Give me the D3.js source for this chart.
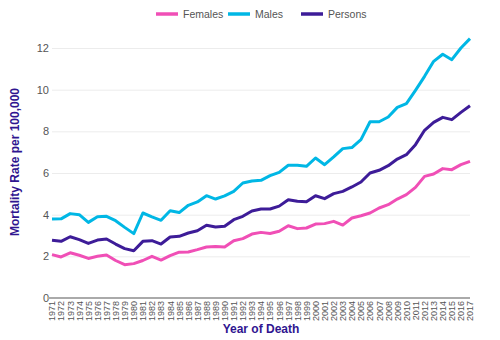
<!DOCTYPE html>
<html>
<head>
<meta charset="utf-8">
<script src="https://cdn.jsdelivr.net/npm/d3@7"></script>
<style>
  body { margin: 0; background: #fff; }
  svg { display: block; font-family: "Liberation Sans", Arial, sans-serif; }
</style>
</head>
<body>
<svg id="chart" width="500" height="340"></svg>
<script>
const years = d3.range(1971, 2018).map(String);

const females = [2.08, 1.97, 2.17, 2.05, 1.9, 2.0, 2.06, 1.8, 1.6, 1.65, 1.8, 2.0, 1.82, 2.03, 2.2,
  2.21, 2.32, 2.45, 2.47, 2.45, 2.75, 2.85, 3.07, 3.15, 3.1, 3.2, 3.47, 3.33, 3.36, 3.55,
  3.57, 3.68, 3.5, 3.84, 3.95, 4.08, 4.32, 4.48, 4.75, 4.96, 5.31, 5.84, 5.95, 6.21, 6.16, 6.4, 6.56];

const males = [3.79, 3.8, 4.05, 4.0, 3.63, 3.9, 3.92, 3.71, 3.39, 3.09, 4.08, 3.89, 3.73, 4.19, 4.1,
  4.45, 4.61, 4.91, 4.75, 4.9, 5.12, 5.52, 5.62, 5.65, 5.87, 6.03, 6.37, 6.37, 6.32, 6.72,
  6.4, 6.77, 7.17, 7.22, 7.6, 8.46, 8.46, 8.69, 9.15, 9.33, 9.97, 10.64, 11.36, 11.7, 11.44, 12.0, 12.45];

const persons = [2.77, 2.72, 2.94, 2.8, 2.62, 2.78, 2.83, 2.59, 2.37, 2.27, 2.72, 2.75, 2.59, 2.93, 2.96,
  3.12, 3.23, 3.49, 3.41, 3.44, 3.76, 3.92, 4.18, 4.27, 4.27, 4.41, 4.72, 4.64, 4.62, 4.91,
  4.77, 5.01, 5.12, 5.33, 5.57, 6.0, 6.13, 6.35, 6.67, 6.88, 7.36, 8.05, 8.43, 8.67, 8.56, 8.91, 9.23];

const yTicks = [0, 2, 4, 6, 8, 10, 12];

const series = [
  {name: 'Females', values: females, color: '#f04fb6'},
  {name: 'Males', values: males, color: '#00b7e5'},
  {name: 'Persons', values: persons, color: '#3d1c98'}
];

const svg = d3.select('#chart');
const plotLeft = 52, plotRight = 470, plotTop = 48, plotBottom = 298;
const titleColor = '#2f1590';

const x = d3.scalePoint().domain(years).range([plotLeft, plotRight]);
const y = d3.scaleLinear().domain([0, 12]).range([plotBottom, plotTop]);

// gridlines + y labels
const yAxis = svg.append('g')
  .attr('transform', `translate(${plotLeft},0)`)
  .call(d3.axisLeft(y).tickValues(yTicks).tickSize(-(plotRight - plotLeft)).tickPadding(3));
yAxis.select('.domain').remove();
yAxis.selectAll('.tick line').attr('stroke', '#ececec');
yAxis.selectAll('.tick text')
  .attr('fill', '#555')
  .style('font-size', '11px');

// x axis
const xAxis = svg.append('g')
  .attr('transform', `translate(0,${plotBottom})`)
  .call(d3.axisBottom(x).tickSize(0).tickPadding(3));
xAxis.select('.domain')
  .attr('stroke', '#aaa')
  .attr('stroke-width', 2)
  .attr('d', `M${plotLeft - 4},0H${plotRight}`);
xAxis.selectAll('.tick text')
  .attr('fill', '#555')
  .style('font-size', '9px')
  .attr('text-anchor', 'end')
  .attr('transform', 'rotate(-90)')
  .attr('x', -3)
  .attr('y', 0)
  .attr('dy', '0.32em');

// lines
const line = d3.line()
  .x((d, i) => x(years[i]))
  .y(d => y(d));

svg.append('g')
  .selectAll('path')
  .data(series)
  .join('path')
  .attr('d', d => line(d.values))
  .attr('fill', 'none')
  .attr('stroke', d => d.color)
  .attr('stroke-width', 3)
  .attr('stroke-linejoin', 'round');

// legend
const legendX = [156, 228, 301];
const legend = svg.append('g')
  .selectAll('g')
  .data(series)
  .join('g')
  .attr('transform', (d, i) => `translate(${legendX[i]},14)`);
legend.append('line')
  .attr('x1', 0).attr('x2', 22)
  .attr('stroke', d => d.color)
  .attr('stroke-width', 3.5);
legend.append('text')
  .attr('x', 27)
  .attr('dy', '0.35em')
  .attr('fill', '#555')
  .style('font-size', '10.5px')
  .text(d => d.name);

// axis titles
svg.append('text')
  .attr('x', 261)
  .attr('y', 333)
  .attr('text-anchor', 'middle')
  .attr('fill', titleColor)
  .style('font-size', '12px')
  .style('font-weight', 'bold')
  .text('Year of Death');

svg.append('text')
  .attr('transform', 'translate(19,162) rotate(-90)')
  .attr('text-anchor', 'middle')
  .attr('fill', titleColor)
  .style('font-size', '12px')
  .style('font-weight', 'bold')
  .text('Mortality Rate per 100,000');
</script>
</body>
</html>
